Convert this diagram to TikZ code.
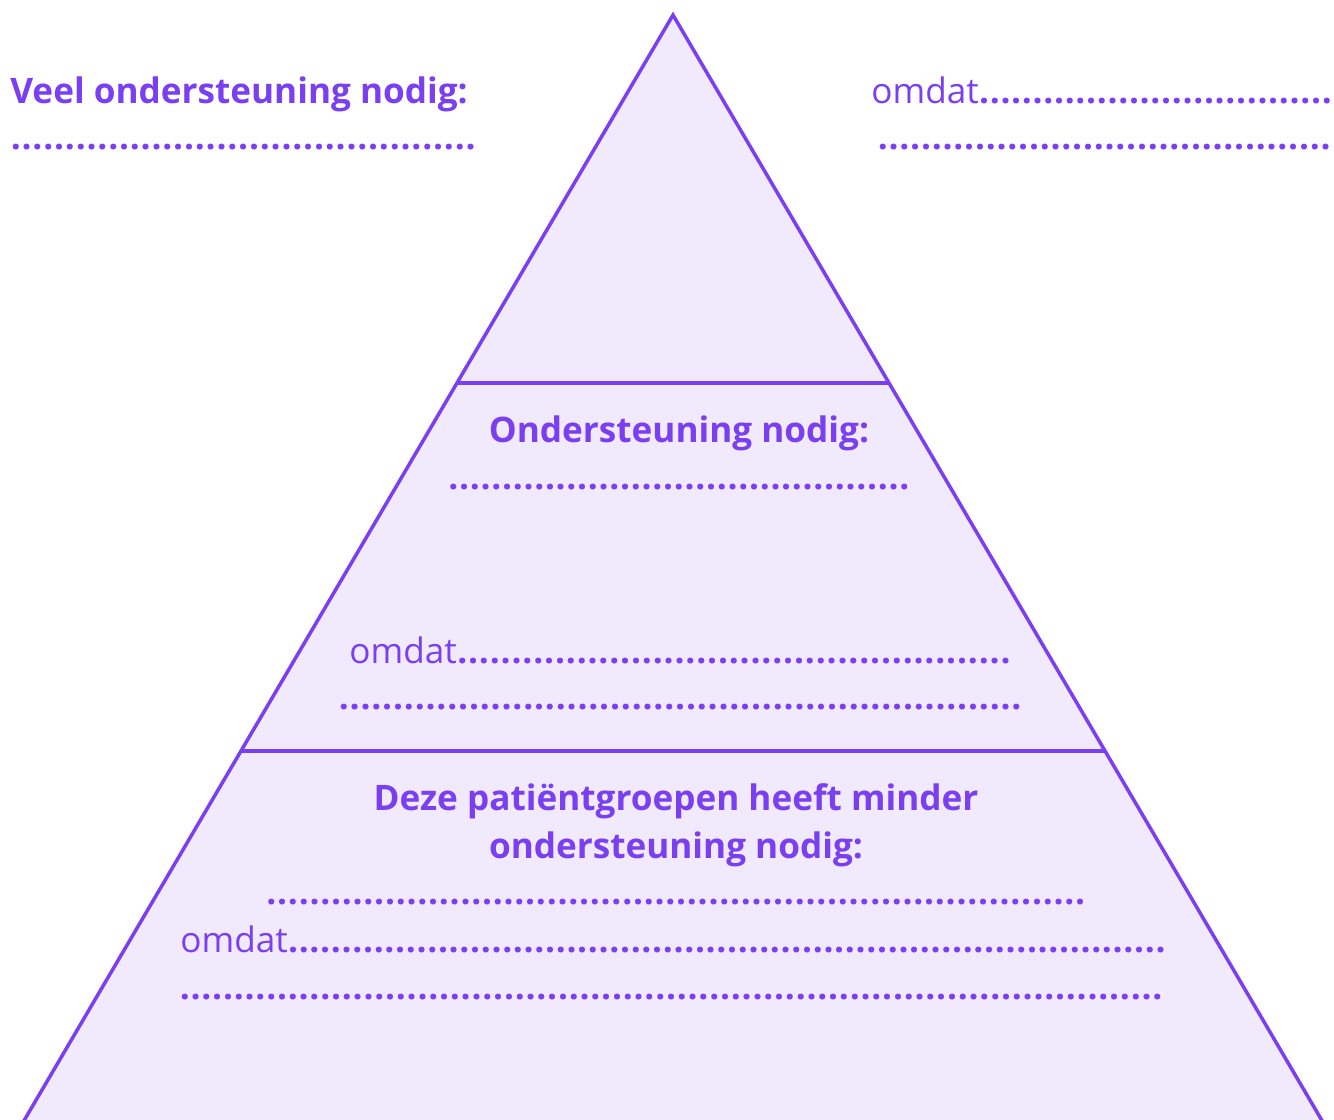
\documentclass[tikz,border=0pt]{standalone}
\usepackage{fontspec}
\setmainfont{Open Sans}
\usetikzlibrary{positioning,calc}
\definecolor{pvpurple}{HTML}{7A3FF0}
\definecolor{pvfill}{HTML}{F1EAFC}
\newlength{\pxu}
\setlength{\pxu}{0.02cm}
% regel met puntjes van vaste breedte
\newcommand{\punt}{\hbox to 10.7\pxu{\hss\bfseries.\hss}}
\newcommand{\stippel}[1]{\makebox[#1\pxu]{\xleaders\punt\hfill}}
\newcommand{\omdat}[1]{\makebox[#1\pxu][l]{omdat\xleaders\punt\hfill}}

\begin{document}
\begin{tikzpicture}[x=0.02cm,y=-0.02cm,
    t/.style={text=pvpurple,inner sep=0pt,font=\fontsize{20}{27.3}\selectfont},
    tb/.style={t,font=\fontsize{20}{27.3}\selectfont\bfseries},
    lijn/.style={draw=pvpurple,line width=2pt}]
  \useasboundingbox (0,0) rectangle (1334,1119);
  \clip (0,0) rectangle (1334,1119);
  % piramide
  \coordinate (top) at (673,15);
  \coordinate (bl) at (18.5,1130);
  \coordinate (br) at (1327.5,1130);
  \draw[lijn,fill=pvfill] (top) -- (bl) -- (br) -- cycle;
  \coordinate (l1) at ($(top)!0.33!(bl)$);
  \coordinate (r1) at ($(top)!0.33!(br)$);
  \coordinate (l2) at ($(top)!0.66!(bl)$);
  \coordinate (r2) at ($(top)!0.66!(br)$);
  \draw[lijn] (l1) -- (r1);
  \draw[lijn] (l2) -- (r2);
  % bovenste laag (buiten de piramide)
  \node[tb,anchor=base west] (veel) at (10,103) {Veel ondersteuning nodig:};
  \node[t,anchor=base west] (veeldots) at (10,149) {\stippel{466}};
  \node[t,anchor=base west] (omdat1) at (871,103) {\omdat{461}};
  \node[t,anchor=base west] (omdat1dots) at (877,149) {\stippel{454}};
  % middelste laag
  \node[tb,anchor=base] (midden) at (679,442) {Ondersteuning nodig:};
  \node[t,anchor=base] (middots) at (679,489) {\stippel{462}};
  \node[t,anchor=base west] (omdat2) at (349,663) {\omdat{662}};
  \node[t,anchor=base west] (omdat2dots) at (338,709) {\stippel{684}};
  % onderste laag
  \node[tb,anchor=base,align=center] (minder) at (676,858)
    {Deze patiëntgroepen heeft minder\\ondersteuning nodig:};
  \node[t,anchor=base] (mindots) at (676,904) {\stippel{820}};
  \node[t,anchor=base west] (omdat3) at (180,952) {\omdat{986}};
  \node[t,anchor=base west] (omdat3dots) at (179,999) {\stippel{984}};
\end{tikzpicture}
\end{document}
